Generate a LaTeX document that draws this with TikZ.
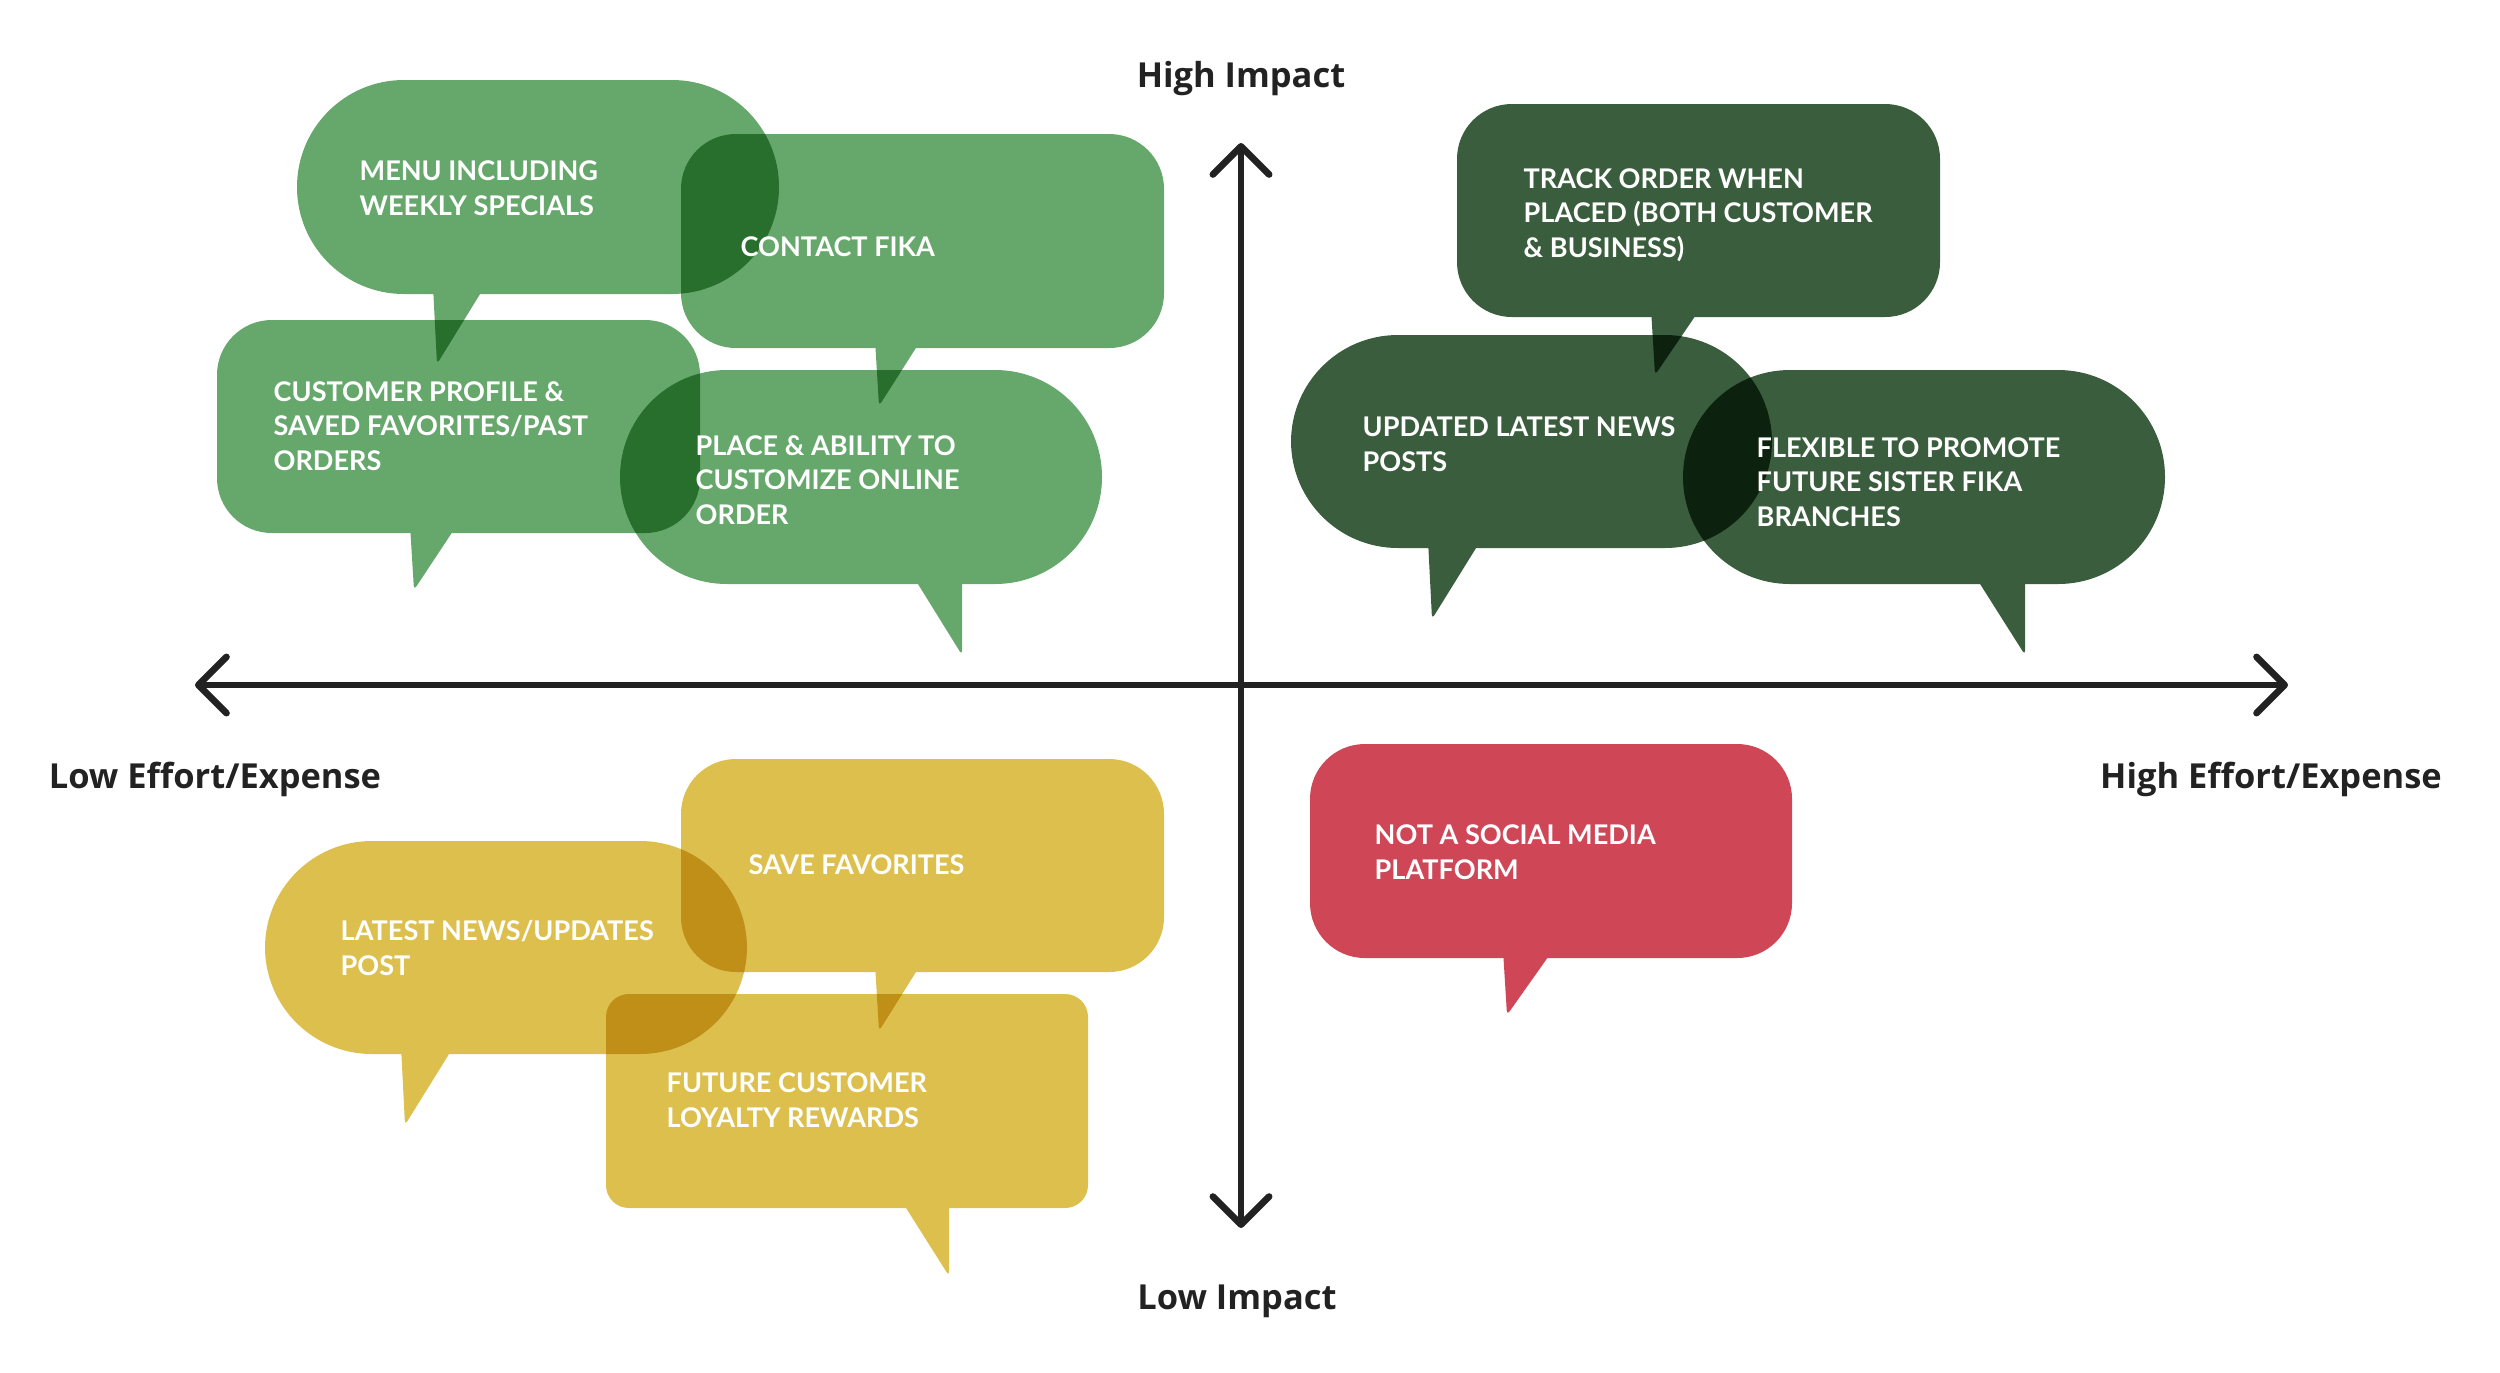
\documentclass[tikz,border=0pt]{standalone}
\usepackage{fontspec}
\setmainfont{Lato}
\newfontfamily\axisfont{Open Sans}
\usetikzlibrary{arrows.meta}

\definecolor{leafgreen}{HTML}{66A86C}
\definecolor{pinegreen}{HTML}{3A5E3D}
\definecolor{mustard}{HTML}{DDBF4E}
\definecolor{berry}{HTML}{CF4657}
\definecolor{ink}{HTML}{222222}

\tikzset{
  bubbletext/.style={anchor=west, inner sep=0pt, align=left, text=white,
    font=\fontsize{7.7}{9.8}\selectfont\bfseries},
  axislabel/.style={anchor=base, inner sep=0pt, text=ink,
    font=\axisfont\fontsize{9.8}{11}\selectfont\bfseries},
  axisline/.style={draw=ink, line width=1.9pt, line cap=round,
    {Straight Barb[length=8pt,width=16pt,round]}-{Straight Barb[length=8pt,width=16pt,round]}},
  pill/.style={rounded corners=30.4pt},
  boxy/.style={rounded corners=15.6pt},
}

\begin{document}
\begin{tikzpicture}[x=0.01cm, y=-0.01cm]
  \useasboundingbox (0,0) rectangle (2500,1372);

  % axes
  \coordinate (west) at (195,685);
  \coordinate (east) at (2288,685);
  \coordinate (north) at (1241,143);
  \coordinate (south) at (1241,1228);
  \draw[axisline] (west) -- (east);
  \draw[axisline] (north) -- (south);

  \node[axislabel] (hi) at (1241,87) {High Impact};
  \node[axislabel] (lo) at (1237,1309) {Low Impact};
  \node[axislabel] (le) at (215,788) {Low Effort/Expense};
  \node[axislabel] (he) at (2271,788) {High Effort/Expense};

  % bubbles
  \begin{scope}[blend mode=multiply]
  \fill[leafgreen] [pill] (297,80) -- (779,80) -- (779,294) -- (297,294) -- cycle
    [rounded corners=1.2pt] (433,286) -- (485,286) -- (437,364) -- cycle;
  \fill[leafgreen] [boxy] (681,134) -- (1164,134) -- (1164,348) -- (681,348) -- cycle
    [rounded corners=1.2pt] (875,340) -- (921,340) -- (879,406) -- cycle;
  \fill[leafgreen] [boxy] (217,320) -- (700,320) -- (700,533) -- (217,533) -- cycle
    [rounded corners=1.2pt] (410,525) -- (457,525) -- (414,590) -- cycle;
  \fill[leafgreen] [pill] (620,370) -- (1102,370) -- (1102,584) -- (620,584) -- cycle
    [rounded corners=1.2pt] (913,576) -- (962,576) -- (962,655) -- cycle;

  \fill[pinegreen] [boxy] (1457,104) -- (1940,104) -- (1940,317) -- (1457,317) -- cycle
    [rounded corners=1.2pt] (1651,309) -- (1700,309) -- (1655,375) -- cycle;
  \fill[pinegreen] [pill] (1291,335) -- (1772,335) -- (1772,548) -- (1291,548) -- cycle
    [rounded corners=1.2pt] (1428,540) -- (1481,540) -- (1432,619) -- cycle;
  \fill[pinegreen] [pill] (1683,370) -- (2165,370) -- (2165,584) -- (1683,584) -- cycle
    [rounded corners=1.2pt] (1975,576) -- (2025,576) -- (2025,655) -- cycle;

  \fill[berry] [boxy] (1310,744) -- (1792,744) -- (1792,958) -- (1310,958) -- cycle
    [rounded corners=1.2pt] (1503,950) -- (1553,950) -- (1507,1015) -- cycle;

  \fill[mustard] [boxy] (681,759) -- (1164,759) -- (1164,972) -- (681,972) -- cycle
    [rounded corners=1.2pt] (875,964) -- (921,964) -- (879,1031) -- cycle;
  \fill[mustard] [pill] (265,841) -- (747,841) -- (747,1054) -- (265,1054) -- cycle
    [rounded corners=1.2pt] (401,1046) -- (454,1046) -- (405,1125) -- cycle;
  \fill[mustard] [rounded corners=6.5pt] (606,994) -- (1088,994) -- (1088,1208) -- (606,1208) -- cycle
    [rounded corners=1.2pt] (901,1200) -- (949,1200) -- (949,1276) -- cycle;
  \end{scope}

  % texts
  \node[bubbletext] (menu) at (359,188) {MENU INCLUDING\\WEEKLY SPECIALS};
  \node[bubbletext] (contact) at (740,247) {CONTACT FIKA};
  \node[bubbletext] (profile) at (273,426) {CUSTOMER PROFILE \&\\SAVED FAVORITES/PAST\\ORDERS};
  \node[bubbletext] (order) at (695,480) {PLACE \& ABILITY TO\\CUSTOMIZE ONLINE\\ORDER};
  \node[bubbletext] (track) at (1523,215) {TRACK ORDER WHEN\\PLACED (BOTH CUSTOMER\\\& BUSINESS)};
  \node[bubbletext] (news) at (1362,444) {UPDATED LATEST NEWS\\POSTS};
  \node[bubbletext] (branches) at (1756,482) {FLEXIBLE TO PROMOTE\\FUTURE SISTER FIKA\\BRANCHES};
  \node[bubbletext] (social) at (1374,852) {NOT A SOCIAL MEDIA\\PLATFORM};
  \node[bubbletext] (favorites) at (748,865) {SAVE FAVORITES};
  \node[bubbletext] (updates) at (340,948) {LATEST NEWS/UPDATES\\POST};
  \node[bubbletext] (loyalty) at (666,1100) {FUTURE CUSTOMER\\LOYALTY REWARDS};
\end{tikzpicture}
\end{document}
